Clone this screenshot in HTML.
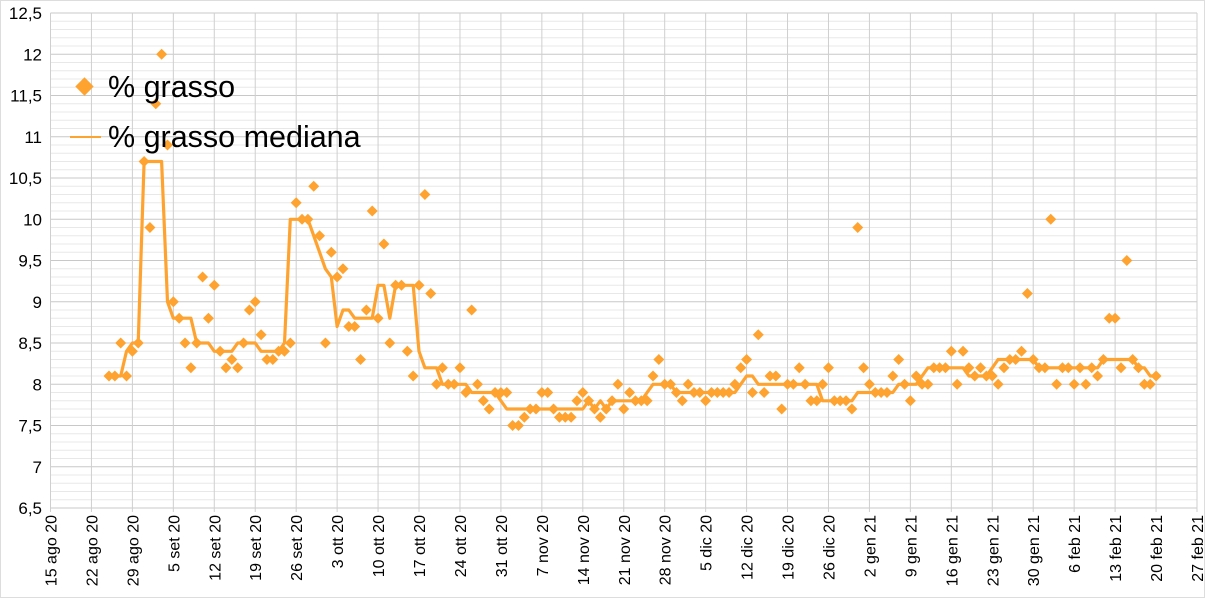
<!DOCTYPE html>
<html><head><meta charset="utf-8"><style>
body{margin:0;background:#fff;}
svg{display:block;font-family:"Liberation Sans",sans-serif;}
</style></head><body>
<svg id="chart" width="1205" height="598" viewBox="0 0 1205 598" xmlns="http://www.w3.org/2000/svg">
<rect x="0.5" y="0.5" width="1204" height="597" fill="#fff" stroke="#ddd"/>
<g id="grid"></g>
<g id="yaxis"></g>
<g id="xaxis"></g>
<g id="series"></g>
<g>
<g>
<rect x="78" y="80" width="13" height="13" fill="#ffa330" transform="rotate(45 84.5 86.5)"/>
<text x="108" y="97" font-size="30.5" fill="#000">% grasso</text></g>
<g>
<line x1="70" y1="137" x2="101" y2="137" stroke="#ffa330" stroke-width="2"/>
<text x="108" y="147" font-size="30.5" fill="#000">% grasso mediana</text></g>
</g>
</svg>
<script>
const startDay = 10; // days after 15 ago 20
const grassoValues = [8.1,8.1,8.5,8.1,8.4,8.5,10.7,9.9,11.4,12.0,
10.9,9.0,8.8,8.5,8.2,8.5,9.3,8.8,9.2,8.4,
8.2,8.3,8.2,8.5,8.9,9.0,8.6,8.3,8.3,8.4,
8.4,8.5,10.2,10.0,10.0,10.4,9.8,8.5,9.6,9.3,
9.4,8.7,8.7,8.3,8.9,10.1,8.8,9.7,8.5,9.2,
9.2,8.4,8.1,9.2,10.3,9.1,8.0,8.2,8.0,8.0,
8.2,7.9,8.9,8.0,7.8,7.7,7.9,7.9,7.9,7.5,
7.5,7.6,7.7,7.7,7.9,7.9,7.7,7.6,7.6,7.6,
7.8,7.9,7.8,7.7,7.6,7.7,7.8,8.0,7.7,7.9,
7.8,7.8,7.8,8.1,8.3,8.0,8.0,7.9,7.8,8.0,
7.9,7.9,7.8,7.9,7.9,7.9,7.9,8.0,8.2,8.3,
7.9,8.6,7.9,8.1,8.1,7.7,8.0,8.0,8.2,8.0,
7.8,7.8,8.0,8.2,7.8,7.8,7.8,7.7,9.9,8.2,
8.0,7.9,7.9,7.9,8.1,8.3,8.0,7.8,8.1,8.0,
8.0,8.2,8.2,8.2,8.4,8.0,8.4,8.2,8.1,8.2,
8.1,8.1,8.0,8.2,8.3,8.3,8.4,9.1,8.3,8.2,
8.2,10.0,8.0,8.2,8.2,8.0,8.2,8.0,8.2,8.1,
8.3,8.8,8.8,8.2,9.5,8.3,8.2,8.0,8.0,8.1];
const medianValues = [8.1,8.1,8.1,8.4,8.5,8.5,10.7,10.7,10.7,10.7,
9.0,8.8,8.8,8.8,8.8,8.5,8.5,8.5,8.4,8.4,
8.4,8.4,8.5,8.5,8.5,8.5,8.4,8.4,8.4,8.4,
8.5,10.0,10.0,10.0,10.0,9.8,9.6,9.4,9.3,8.7,
8.9,8.9,8.8,8.8,8.8,8.8,9.2,9.2,8.8,9.2,
9.2,9.2,9.2,8.4,8.2,8.2,8.2,8.0,8.0,8.0,
8.0,8.0,7.9,7.9,7.9,7.9,7.9,7.8,7.7,7.7,
7.7,7.7,7.7,7.7,7.7,7.7,7.7,7.7,7.7,7.7,
7.7,7.7,7.8,7.7,7.8,7.7,7.8,7.8,7.8,7.8,
7.8,7.8,7.9,8.0,8.0,8.0,8.0,7.9,7.9,7.9,
7.9,7.9,7.9,7.9,7.9,7.9,7.9,7.9,8.0,8.1,
8.1,8.0,8.0,8.0,8.0,8.0,8.0,8.0,8.0,8.0,
8.0,8.0,7.8,7.8,7.8,7.8,7.8,7.8,7.9,7.9,
7.9,7.9,7.9,7.9,7.9,8.0,8.0,8.0,8.0,8.1,
8.2,8.2,8.2,8.2,8.2,8.2,8.2,8.1,8.1,8.1,
8.1,8.2,8.3,8.3,8.3,8.3,8.3,8.3,8.3,8.2,
8.2,8.2,8.2,8.2,8.2,8.2,8.2,8.2,8.2,8.2,
8.3,8.3,8.3,8.3,8.3,8.3,8.2,8.2,8.1,8.1];
const xTickLabels = ["15 ago 20","22 ago 20","29 ago 20","5 set 20","12 set 20","19 set 20","26 set 20","3 ott 20","10 ott 20","17 ott 20","24 ott 20","31 ott 20","7 nov 20","14 nov 20","21 nov 20","28 nov 20","5 dic 20","12 dic 20","19 dic 20","26 dic 20","2 gen 21","9 gen 21","16 gen 21","23 gen 21","30 gen 21","6 feb 21","13 feb 21","20 feb 21","27 feb 21"];
const yTickValues = [6.5,7,7.5,8,8.5,9,9.5,10,10.5,11,11.5,12,12.5];
const yTickLabels = ["6,5","7","7,5","8","8,5","9","9,5","10","10,5","11","11,5","12","12,5"];

const NS="http://www.w3.org/2000/svg";
const L=50.5,R=1197,T=13,B=508,yMin=6.5,yMax=12.5,totalDays=196;
const xS=d=>L+(d/totalDays)*(R-L);
const yS=v=>B-(v-yMin)/(yMax-yMin)*(B-T);
function mk(tag,attrs,parent){const e=document.createElementNS(NS,tag);for(const k in attrs)e.setAttribute(k,attrs[k]);parent.appendChild(e);return e;}
const grid=document.getElementById('grid'),ya=document.getElementById('yaxis'),xa=document.getElementById('xaxis'),ser=document.getElementById('series');
for(let i=0;i<=60;i++){const v=yMin+i*0.1;const major=i%5===0;
 const ln=mk('line',{x1:L,x2:R,y1:yS(v),y2:yS(v),stroke:major?'#c8c8c8':'#e8e8e8','stroke-width':1},grid);
 
 }
xTickLabels.forEach((lab,i)=>{const x=xS(i*7);
 const ln=mk('line',{x1:x,x2:x,y1:T,y2:B+4,stroke:'#cfcfcf','stroke-width':1},grid);
 
 
 const t=mk('text',{x:0,y:0,'font-size':16,'text-anchor':'end',transform:`translate(${x+6},${B+7}) rotate(-90)`,fill:'#000'},xa);
 t.textContent=lab;
 
 });
yTickValues.forEach((v,i)=>{const t=mk('text',{x:42,y:yS(v)+6,'font-size':17,'text-anchor':'end',fill:'#000'},ya);
 t.textContent=yTickLabels[i];
 
 });
const pts=medianValues.map((v,i)=>xS(startDay+i).toFixed(1)+','+yS(v).toFixed(1)).join(' ');
const pl=mk('polyline',{points:pts,fill:'none',stroke:'#ffa330','stroke-width':3.2,'stroke-linejoin':'round'},ser);


grassoValues.forEach((v,i)=>{const x=xS(startDay+i),y=yS(v);
 const p=mk('polygon',{points:`${x},${y-5.5} ${x+5.5},${y} ${x},${y+5.5} ${x-5.5},${y}`,fill:'#ffa330'},ser);
 
 });
</script>
</body></html>
